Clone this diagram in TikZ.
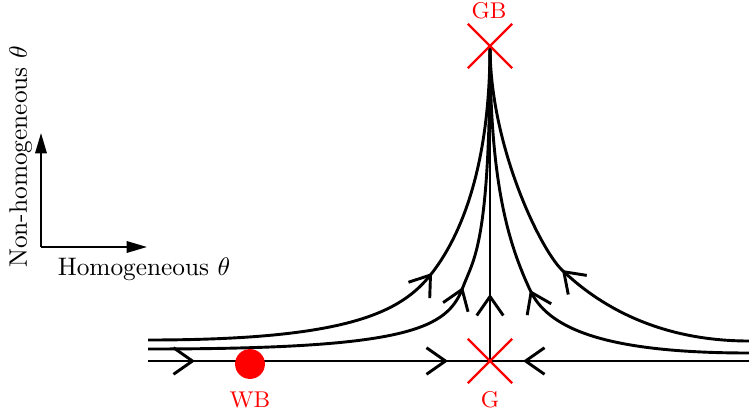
\documentclass[tikz,border=0pt]{standalone}
\usetikzlibrary{arrows.meta,shapes.misc}
\begin{document}
\begin{tikzpicture}[x=0.395pt,y=-0.395pt]
\tikzset{
  cbarb/.tip={Straight Barb[length=7.5pt,width=10.5pt]},
  flow/.style={line width=1.15pt, black},
  chevron/.style={line width=1.15pt, black, -{cbarb}},
  redx/.style={draw=red, cross out, line width=0.9pt, minimum size=16.6pt, inner sep=0pt},
  lbl/.style={text=red, font=\small, inner sep=1pt},
  axisarrow/.style={line width=0.8pt, -{Triangle[length=8pt,width=4.5pt]}},
}
\useasboundingbox (0,0) rectangle (749,417);

% key points
\coordinate (G) at (490,361);
\coordinate (GB) at (490,46);
\coordinate (hl) at (148,361);
\coordinate (hr) at (749,361);
\coordinate (O) at (41,247);
\coordinate (Xend) at (147,247);
\coordinate (Yend) at (41,133);

% axes
\draw[axisarrow] (O) -- (Xend);
\draw[axisarrow] (O) -- (Yend);
\node[anchor=base] (xlab) at (144,275) {Homogeneous $\theta$};
\node[anchor=base, rotate=90] (ylab) at (27,157) {Non-homogeneous $\theta$};

% chevron tips on the flow lines
\coordinate (olt) at (432,273);
\coordinate (ilt) at (463,287);
\coordinate (irt) at (530,290);
\coordinate (ort) at (562,270);

% horizontal and vertical flow lines
\draw[flow] (hl) -- (hr);
\draw[flow] (G) -- (GB);

% outer left
\draw[flow] (148,340) .. controls (348,340) and (401.5,312.5) .. (olt)
   .. controls (465.6,229.6) and (490,156) .. (GB);
% inner left
\draw[flow] (148,349) .. controls (408,349) and (447.3,329.3) .. (ilt)
   .. controls (473.5,258.8) and (490,246) .. (GB);
% inner right
\draw[flow] (749,353) .. controls (599,353) and (546.8,326.4) .. (irt)
   .. controls (509,244.5) and (490,186) .. (GB);
% outer right
\draw[flow] (749,341) .. controls (649,341) and (590.8,297.6) .. (ort)
   .. controls (540.4,249.3) and (490,146) .. (GB);

% chevrons (flow direction)
\coordinate (h1t) at (195,361);  \coordinate (h1b) at (189,361);
\coordinate (h2t) at (448,361);  \coordinate (h2b) at (442,361);
\coordinate (h3t) at (523,361);  \coordinate (h3b) at (529,361);
\coordinate (vt)  at (490,294);  \coordinate (vb)  at (490,300);
\coordinate (olb) at (429.6,276.2);
\coordinate (ilb) at (461.6,290.8);
\coordinate (irb) at (531.7,293.6);
\coordinate (orb) at (564.9,272.8);
\draw[chevron] (h1b) -- (h1t);
\draw[chevron] (h2b) -- (h2t);
\draw[chevron] (h3b) -- (h3t);
\draw[chevron] (vb) -- (vt);
\draw[chevron] (olb) -- (olt);
\draw[chevron] (ilb) -- (ilt);
\draw[chevron] (irb) -- (irt);
\draw[chevron] (orb) -- (ort);

% fixed points
\node[redx] (Gx) at (G) {};
\node[redx] (GBx) at (GB) {};
\node[circle, fill=red, minimum size=11.8pt, inner sep=0pt] (WB) at (250,364) {};
\node[lbl] (Glbl) at (490,400) {G};
\node[lbl] (GBlbl) at (489,11) {GB};
\node[lbl] (WBlbl) at (250,400) {WB};
\end{tikzpicture}
\end{document}
